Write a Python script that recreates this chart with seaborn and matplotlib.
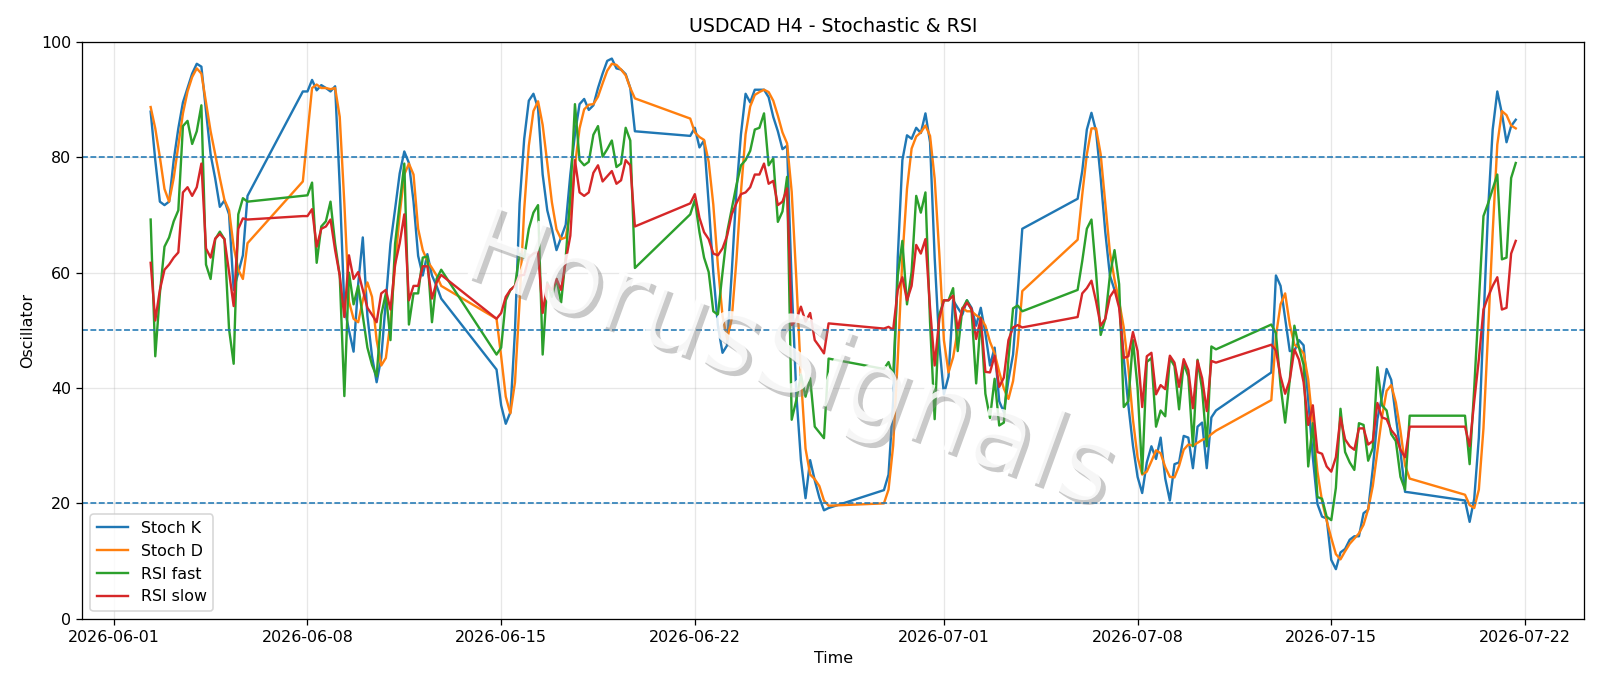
import numpy as np
import pandas as pd
import matplotlib
matplotlib.use("Agg")
import matplotlib.pyplot as plt
import matplotlib.patheffects as pe
import seaborn as sns

# USDCAD H4 oscillators, one row per trading week (Sun 20:00 .. Fri 20:00 bars)
# first week starts Tue 08:00, last week stops Tue 16:00

stoch_k = [
    87.9, 79.5, 72.3, 71.7, 72.3, 79.5, 85.0, 89.5, 92.0, 94.5, 96.2, 95.7, 88.0, 80.5, 76.3, 71.4, 72.5, 70.1, 57.0, 60.0, 63.0, 73.3,
    91.4, 91.4, 93.4, 91.6, 92.5, 92.0, 91.4, 92.3, 75.0, 54.0, 50.0, 46.3, 58.0, 66.1, 52.5, 45.5, 41.0, 45.2, 55.2, 65.0, 71.0, 77.2, 81.0, 79.0, 72.3, 62.9, 59.5, 63.2, 59.5, 57.7, 55.5,
    43.2, 37.0, 33.8, 35.8, 50.0, 72.0, 83.2, 89.8, 91.0, 88.5, 77.0, 70.8, 67.6, 63.9, 66.1, 68.3, 77.0, 84.0, 89.2, 90.1, 88.2, 89.0, 92.0, 94.5, 96.7, 97.1, 95.4, 95.2, 94.4, 92.0, 84.5,
    83.7, 85.1, 81.7, 82.9, 72.0, 60.0, 50.8, 46.1, 47.4, 60.0, 74.0, 84.0, 91.0, 89.5, 91.7, 91.7, 91.7, 90.4, 87.0, 84.5, 81.4, 82.0, 58.0, 39.0, 27.5, 20.9, 27.5, 24.0, 21.0, 18.8, 19.2,
    22.3, 25.0, 37.7, 62.6, 79.5, 83.8, 83.2, 85.1, 84.2, 87.6, 82.6, 62.6, 47.6, 38.9, 42.0, 55.2, 53.9, 52.7, 55.2, 53.9, 50.8, 53.9, 49.5, 43.9, 47.0, 37.7, 35.8, 41.4, 45.8, 56.4, 67.6,
    72.8, 77.6, 84.8, 87.7, 84.5, 76.4, 67.0, 59.5, 57.0, 55.2, 45.2, 37.0, 30.0, 24.6, 21.8, 27.1, 29.9, 27.7, 31.4, 24.3, 20.5, 26.8, 27.1, 31.7, 31.4, 26.1, 33.3, 34.0, 26.1, 34.9, 36.1,
    42.7, 59.5, 57.7, 52.0, 46.4, 46.4, 48.3, 47.4, 38.0, 28.0, 19.9, 17.7, 17.4, 10.2, 8.6, 11.5, 12.1, 13.7, 14.3, 14.3, 18.3, 18.9, 26.0, 34.6, 38.5, 43.3, 41.4, 35.0, 29.0, 22.0, 21.9,
    20.5, 16.8, 20.8, 31.4, 51.4, 70.8, 84.8, 91.4, 87.6, 82.6, 85.4, 86.5,
]

stoch_d = [
    88.7, 85.0, 80.0, 74.5, 72.3, 76.4, 82.0, 87.6, 91.4, 93.9, 95.4, 94.5, 89.5, 84.5, 80.5, 76.4, 72.6, 70.8, 64.5, 60.5, 58.9, 65.1,
    75.8, 84.0, 92.0, 92.6, 92.0, 92.0, 91.8, 92.0, 87.0, 72.0, 55.0, 52.0, 51.4, 55.2, 58.3, 55.8, 48.3, 43.9, 45.2, 51.4, 61.4, 70.1, 77.0, 78.9, 77.0, 67.6, 63.9, 62.0, 60.8, 59.5, 57.7,
    52.0, 45.5, 38.5, 35.6, 41.0, 55.0, 71.0, 82.0, 88.0, 89.7, 85.6, 79.0, 72.2, 67.5, 65.8, 66.1, 70.6, 78.5, 85.0, 88.3, 89.1, 89.2, 90.5, 92.8, 95.0, 96.2, 96.0, 95.2, 94.2, 92.0, 90.2,
    86.7, 84.3, 83.5, 83.0, 79.2, 71.8, 61.2, 52.5, 48.5, 52.0, 62.0, 74.0, 84.0, 88.8, 90.8, 91.3, 91.7, 91.3, 89.8, 87.2, 84.3, 82.4, 74.0, 59.0, 42.0, 29.5, 25.0, 24.2, 23.0, 20.5, 19.6,
    20.0, 22.4, 30.0, 45.0, 62.5, 74.5, 81.5, 83.6, 84.3, 85.5, 83.7, 76.3, 63.4, 48.3, 42.7, 45.3, 50.0, 53.9, 53.3, 53.3, 52.6, 52.1, 50.8, 48.0, 46.0, 42.8, 39.9, 38.1, 41.2, 47.4, 56.8,
    65.7, 73.5, 80.5, 85.0, 85.0, 80.5, 72.0, 63.5, 58.8, 55.0, 50.5, 43.5, 34.5, 28.0, 25.0, 25.5, 27.3, 29.2, 28.7, 26.3, 24.6, 24.5, 26.5, 29.3, 30.2, 30.0, 30.5, 31.0, 31.3, 32.0, 32.6,
    37.9, 49.0, 54.5, 56.4, 51.0, 47.5, 47.0, 46.0, 41.5, 33.5, 25.5, 20.4, 17.0, 14.0, 11.2, 10.3, 11.7, 13.0, 13.9, 14.8, 16.3, 19.0, 23.0, 29.0, 35.0, 39.5, 40.5, 37.5, 32.6, 26.6, 24.3,
    21.5, 19.7, 19.2, 22.4, 33.0, 49.6, 67.0, 82.2, 88.0, 87.3, 85.5, 85.0,
]

rsi_fast = [
    69.2, 45.5, 56.4, 64.5, 66.1, 68.9, 70.8, 85.4, 86.3, 82.3, 84.5, 89.0, 61.4, 58.9, 65.8, 67.1, 65.8, 50.2, 44.2, 70.1, 72.9, 72.3,
    73.3, 73.4, 75.6, 61.7, 68.0, 68.9, 72.3, 65.0, 59.5, 38.6, 60.0, 54.5, 57.7, 52.5, 47.0, 44.0, 42.0, 52.7, 56.4, 48.3, 65.0, 72.0, 78.9, 51.0, 56.4, 56.4, 62.6, 62.8, 51.4, 58.9, 60.5,
    45.8, 47.0, 55.2, 57.0, 57.7, 63.3, 62.6, 67.6, 70.4, 71.7, 45.8, 58.3, 55.8, 58.9, 54.8, 62.6, 73.3, 89.2, 79.5, 78.6, 79.2, 83.9, 85.4, 80.1, 81.4, 82.9, 78.3, 78.9, 85.1, 82.9, 60.8,
    70.1, 72.6, 67.0, 62.6, 60.1, 53.3, 52.7, 60.0, 67.0, 71.1, 75.1, 78.6, 79.5, 81.1, 84.8, 85.1, 87.6, 78.6, 79.8, 68.8, 70.6, 76.6, 34.5, 37.9, 42.3, 38.5, 41.7, 33.3, 32.3, 31.3, 45.1,
    43.3, 44.5, 42.0, 59.5, 65.5, 54.5, 60.1, 73.3, 70.4, 73.9, 51.4, 34.6, 52.7, 55.2, 55.2, 57.3, 46.4, 53.7, 55.2, 53.5, 40.8, 52.2, 39.0, 34.8, 41.6, 33.5, 34.0, 45.0, 53.8, 54.3, 53.3,
    57.0, 62.0, 67.6, 69.2, 60.0, 49.2, 52.0, 59.5, 63.9, 58.0, 36.7, 37.7, 48.3, 40.0, 25.2, 44.5, 45.2, 33.3, 36.1, 35.1, 45.2, 43.8, 36.3, 44.3, 42.0, 29.9, 44.9, 39.7, 29.9, 47.2, 46.7,
    51.0, 49.5, 40.5, 34.0, 41.4, 50.8, 47.0, 44.0, 26.4, 33.9, 21.1, 20.8, 17.7, 17.1, 22.7, 36.4, 28.9, 27.1, 25.8, 33.9, 33.6, 27.4, 29.6, 43.6, 37.0, 36.1, 32.0, 30.8, 24.6, 22.4, 35.2,
    35.2, 26.8, 40.0, 55.0, 69.8, 72.0, 74.5, 77.0, 62.3, 62.6, 76.4, 79.0,
]

rsi_slow = [
    61.7, 51.7, 57.0, 60.5, 61.4, 62.6, 63.5, 73.9, 74.8, 73.3, 74.8, 78.9, 64.2, 62.6, 65.9, 66.7, 65.8, 60.1, 54.2, 67.6, 69.4, 69.2,
    69.8, 69.8, 71.0, 64.5, 67.6, 68.0, 69.2, 63.9, 59.5, 52.3, 63.0, 58.9, 60.1, 57.0, 53.9, 52.7, 51.4, 56.4, 57.0, 53.6, 61.4, 65.1, 70.1, 55.2, 57.7, 57.7, 61.1, 61.1, 55.5, 58.3, 59.6,
    52.0, 53.0, 55.8, 57.0, 57.7, 59.5, 59.6, 62.6, 63.3, 63.6, 53.0, 58.0, 57.0, 58.9, 57.0, 62.0, 66.4, 79.5, 73.9, 73.3, 73.9, 77.3, 78.6, 75.8, 76.7, 77.6, 75.4, 76.0, 79.5, 78.6, 68.0,
    72.0, 73.6, 69.5, 67.0, 65.8, 63.3, 63.0, 64.2, 66.4, 70.1, 72.0, 73.6, 73.9, 74.8, 77.0, 77.0, 78.9, 75.4, 75.9, 71.7, 72.3, 74.6, 50.9, 51.8, 54.1, 51.5, 53.0, 48.3, 47.2, 46.0, 51.2,
    50.3, 50.6, 50.1, 57.0, 59.2, 55.2, 57.7, 64.8, 63.3, 65.8, 53.9, 43.9, 52.0, 55.2, 55.2, 56.0, 50.1, 53.6, 54.8, 53.7, 48.5, 52.1, 42.8, 42.7, 45.6, 40.2, 41.8, 48.3, 50.5, 50.9, 50.5,
    52.3, 56.4, 57.3, 58.6, 55.0, 50.8, 52.0, 55.8, 57.0, 53.9, 45.2, 45.5, 49.7, 46.4, 36.7, 45.5, 46.1, 38.9, 40.5, 39.8, 45.6, 44.4, 40.2, 45.0, 43.1, 36.5, 44.7, 41.7, 36.0, 44.7, 44.4,
    47.5, 46.5, 42.0, 39.0, 41.4, 46.7, 44.9, 41.0, 33.6, 37.0, 28.9, 28.6, 26.4, 25.5, 28.0, 34.9, 31.1, 29.9, 29.3, 33.0, 33.0, 30.2, 30.8, 37.4, 34.9, 34.6, 32.7, 31.7, 29.3, 28.0, 33.3,
    33.3, 29.9, 37.7, 45.0, 53.6, 55.8, 57.7, 59.2, 53.6, 53.9, 63.3, 65.5,
]

levels = [20, 50, 80]

# H4 bars, market closed from Fri 24:00 to Sun 20:00
times = pd.date_range("2026-06-02 08:00", "2026-07-21 16:00", freq="4h")
closed = (times.dayofweek == 5) | ((times.dayofweek == 6) & (times.hour < 20))
times = times[~closed]

fig, ax = plt.subplots(figsize=(14, 6.0025), dpi=114.2858)
fig.subplots_adjust(left=0.0515, right=0.99, bottom=0.098, top=0.939)

series = [("Stoch K", stoch_k, "C0"), ("Stoch D", stoch_d, "C1"),
          ("RSI fast", rsi_fast, "C2"), ("RSI slow", rsi_slow, "C3")]
for name, vals, col in series:
    sns.lineplot(x=times, y=vals, ax=ax, color=col, label=name, linewidth=1.5)

for lvl in levels:
    ax.axhline(lvl, color="C0", linestyle="--", linewidth=1)

ax.set_ylim(0, 100)
ax.grid(True, alpha=0.3)
ax.set_title("USDCAD H4 - Stochastic & RSI")
ax.set_xlabel("Time")
ax.set_ylabel("Oscillator")
ax.legend(loc="lower left")

# watermark: white letters with a soft grey drop shadow
ax.text(0.47, 0.445, "HorusSignals", transform=ax.transAxes, fontsize=66,
        color="white", alpha=0.85, rotation=-20, ha="center", va="center", zorder=5,
        path_effects=[pe.withSimplePatchShadow(offset=(3, -3), shadow_rgbFace="#888888", alpha=0.45)])

fig.savefig("out.png")
